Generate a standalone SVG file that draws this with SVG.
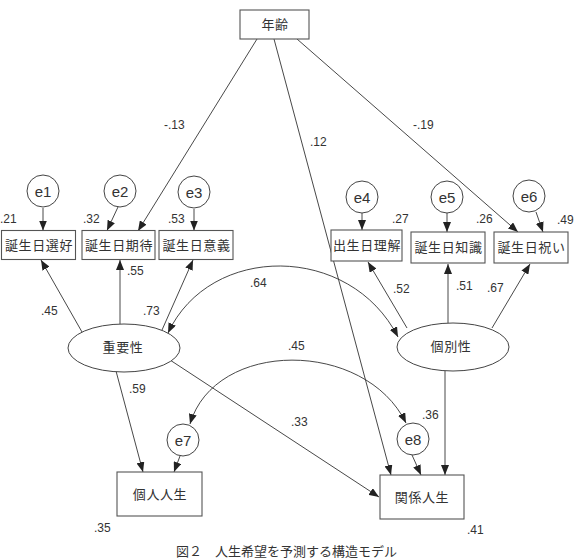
<svg xmlns="http://www.w3.org/2000/svg" width="574" height="559" viewBox="0 0 574 559">
<style>
.box{fill:#fff;stroke:#555;stroke-width:1.1}
.ell{fill:#fff;stroke:#444;stroke-width:1}
.jp{font-family:"Noto Sans CJK JP","Noto Sans CJK SC",sans-serif;font-size:13px;fill:#333;text-anchor:middle;letter-spacing:0.6px}
.el{font-family:"Liberation Sans",Arial,sans-serif;font-size:15px;fill:#333;text-anchor:middle}
.num{font-family:"Liberation Sans",Arial,sans-serif;font-size:12px;fill:#333}
.cap{font-family:"Noto Sans CJK JP",serif;font-size:13px;fill:#333}
.ln{fill:none;stroke:#333;stroke-width:0.9}
.a{marker-end:url(#ah)}
.b{marker-start:url(#ah);marker-end:url(#ah)}
</style>
<defs>
<marker id="ah" viewBox="0 0 10 8" refX="10" refY="4" markerWidth="10" markerHeight="8" orient="auto-start-reverse" markerUnits="userSpaceOnUse">
<path d="M0,0 L10,4 L0,8 z" fill="#222"/>
</marker>
</defs>
<rect width="574" height="559" fill="#fff"/>

<g id="connectors">
<line class="ln a" x1="257" y1="39" x2="138" y2="231"/>
<line class="ln a" x1="274" y1="39" x2="391" y2="475"/>
<line class="ln a" x1="297" y1="39" x2="518" y2="232"/>
<line class="ln a" x1="43" y1="208" x2="43" y2="230.5"/>
<line class="ln a" x1="118" y1="207" x2="107" y2="230.5"/>
<line class="ln a" x1="194" y1="209" x2="194" y2="230.5"/>
<line class="ln a" x1="362" y1="213" x2="362" y2="230"/>
<line class="ln a" x1="447" y1="213" x2="447" y2="232"/>
<line class="ln a" x1="536" y1="212" x2="543" y2="232"/>
<line class="ln a" x1="82" y1="332" x2="41" y2="260"/>
<line class="ln a" x1="120" y1="324" x2="120" y2="260"/>
<line class="ln a" x1="162" y1="330" x2="193" y2="260"/>
<line class="ln a" x1="407" y1="328" x2="368" y2="262"/>
<line class="ln a" x1="448" y1="323" x2="448" y2="264"/>
<line class="ln a" x1="492" y1="328" x2="530" y2="264"/>
<line class="ln a" x1="116" y1="371" x2="143" y2="472"/>
<line class="ln a" x1="180" y1="456" x2="174" y2="472"/>
<line class="ln a" x1="170" y1="360" x2="379" y2="497"/>
<line class="ln a" x1="412" y1="455" x2="421" y2="475"/>
<line class="ln a" x1="445" y1="371" x2="445" y2="475"/>
<path class="ln b" d="M168,333 C210,243 350,243 398,337"/>
<path class="ln b" d="M190,424 C215,339 365,339 406,423"/>
</g>

<g id="age"><rect class="box" x="240" y="10" width="69" height="29"/><text class="jp" x="275" y="29">年齢</text></g>

<g id="e1"><circle class="ell" cx="43" cy="191" r="16"/><text class="el" x="43" y="197">e1</text></g>
<g id="e2"><circle class="ell" cx="120" cy="191" r="16"/><text class="el" x="120" y="197">e2</text></g>
<g id="e3"><circle class="ell" cx="194" cy="192" r="16"/><text class="el" x="194" y="198">e3</text></g>
<g id="e4"><circle class="ell" cx="362" cy="197" r="16"/><text class="el" x="362" y="203">e4</text></g>
<g id="e5"><circle class="ell" cx="447" cy="197" r="16"/><text class="el" x="447" y="203">e5</text></g>
<g id="e6"><circle class="ell" cx="529" cy="196" r="16"/><text class="el" x="529" y="202">e6</text></g>
<g id="e7"><circle class="ell" cx="183" cy="440" r="16"/><text class="el" x="183" y="446">e7</text></g>
<g id="e8"><circle class="ell" cx="413" cy="439" r="16"/><text class="el" x="413" y="445">e8</text></g>

<g id="v1"><rect class="box" x="1.5" y="230.5" width="74" height="29"/><text class="jp" x="39" y="250">誕生日選好</text></g>
<g id="v2"><rect class="box" x="82" y="230.5" width="73" height="29"/><text class="jp" x="119" y="250">誕生日期待</text></g>
<g id="v3"><rect class="box" x="159" y="230.5" width="74" height="29"/><text class="jp" x="196.5" y="250">誕生日意義</text></g>
<g id="v4"><rect class="box" x="331" y="230" width="71" height="31"/><text class="jp" x="367" y="250">出生日理解</text></g>
<g id="v5"><rect class="box" x="411" y="232" width="74" height="31"/><text class="jp" x="448.5" y="252">誕生日知識</text></g>
<g id="v6"><rect class="box" x="494" y="232" width="74" height="31"/><text class="jp" x="531.5" y="252">誕生日祝い</text></g>

<g id="juyou"><ellipse class="ell" cx="124" cy="348" rx="56" ry="24"/><text class="jp" x="123" y="352">重要性</text></g>
<g id="kobetsu"><ellipse class="ell" cx="453" cy="347" rx="56" ry="24"/><text class="jp" x="451" y="351">個別性</text></g>

<g id="kojin"><rect class="box" x="117" y="472" width="85" height="44"/><text class="jp" x="160" y="499">個人人生</text></g>
<g id="kankei"><rect class="box" x="380" y="475" width="84" height="44"/><text class="jp" x="422" y="502">関係人生</text></g>

<g id="labels">
<text class="num" x="164" y="129">-.13</text>
<text class="num" x="310" y="146">.12</text>
<text class="num" x="413" y="129">-.19</text>
<text class="num" x="0" y="223">.21</text>
<text class="num" x="83" y="223">.32</text>
<text class="num" x="168" y="223">.53</text>
<text class="num" x="392" y="223">.27</text>
<text class="num" x="476" y="223">.26</text>
<text class="num" x="557" y="224">.49</text>
<text class="num" x="127" y="275">.55</text>
<text class="num" x="41" y="315">.45</text>
<text class="num" x="143" y="315">.73</text>
<text class="num" x="250" y="287">.64</text>
<text class="num" x="393" y="293">.52</text>
<text class="num" x="456" y="290">.51</text>
<text class="num" x="487" y="292">.67</text>
<text class="num" x="288" y="350">.45</text>
<text class="num" x="129" y="393">.59</text>
<text class="num" x="291" y="426">.33</text>
<text class="num" x="422" y="419">.36</text>
<text class="num" x="94" y="532">.35</text>
<text class="num" x="467" y="534">.41</text>
</g>
<text class="cap" x="176" y="556">図２　人生希望を予測する構造モデル</text>
</svg>
